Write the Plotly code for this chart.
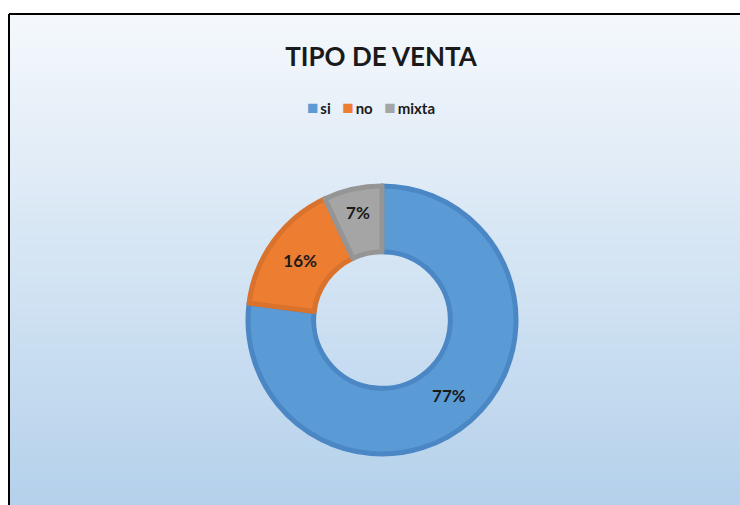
import plotly.graph_objects as go

# Data
categories = ["si", "no", "mixta"]
values = [77, 16, 7]
colors = ["#5B9BD5", "#ED7D31", "#A5A5A5"]
edge_colors = ["#4A87C4", "#D9722C", "#959595"]

W, H = 740, 505

fig = go.Figure()

fig.add_trace(go.Pie(
    labels=categories,
    values=values,
    hole=0.51,
    sort=False,
    direction="clockwise",
    rotation=0,
    marker=dict(colors=colors, line=dict(color=edge_colors, width=5)),
    texttemplate="%{percent:.0%}",
    textposition="inside",
    insidetextorientation="horizontal",
    textfont=dict(family="Lato", size=17, color="#1a1a1a", weight="bold"),
    domain=dict(x=[(382 - 134) / W, (382 + 134) / W],
                y=[(185 - 134) / H, (185 + 134) / H]),
    showlegend=False,
))

# gradient background strips (styling only)
shapes = []
top = (244, 248, 252)
bot = (181, 209, 235)
y_top = (H - 15) / H
n = 60
for i in range(n):
    t = i / (n - 1)
    c = tuple(round(top[k] + (bot[k] - top[k]) * t) for k in range(3))
    y1 = y_top - i * y_top / n
    y0 = y_top - (i + 1) * y_top / n
    shapes.append(dict(type="rect", xref="paper", yref="paper",
                       x0=10 / W, x1=1.0, y0=max(y0 - 0.002, 0), y1=y1,
                       fillcolor="rgb(%d,%d,%d)" % c, line=dict(width=0),
                       layer="below"))
# border lines
shapes.append(dict(type="line", xref="paper", yref="paper",
                   x0=9 / W, x1=1.0, y0=(H - 14) / H, y1=(H - 14) / H,
                   line=dict(color="black", width=2)))
shapes.append(dict(type="line", xref="paper", yref="paper",
                   x0=9 / W, x1=9 / W, y0=0, y1=(H - 14) / H,
                   line=dict(color="black", width=2)))

# compact legend built from the category list
legend_text = "&nbsp;&nbsp;&nbsp;".join(
    "<span style='color:%s;font-size:19px'>■</span>\u2009<b>%s</b>" % (c, lab)
    for c, lab in zip(colors, categories))
annotations = [dict(text=legend_text, xref="paper", yref="paper",
                    x=371 / W, y=1 - 107 / H, xanchor="center", yanchor="middle",
                    showarrow=False,
                    font=dict(family="Lato", size=15, color="#1a1a1a"))]

fig.update_layout(
    width=W, height=H,
    margin=dict(l=0, r=0, t=0, b=0),
    paper_bgcolor="white",
    plot_bgcolor="white",
    shapes=shapes,
    annotations=annotations,
    showlegend=False,
    title=dict(text="<b>TIPO DE VENTA</b>", x=381 / W, xanchor="center",
               y=1 - 57 / H, yanchor="middle",
               font=dict(family="Lato", size=26, color="#1a1a1a")),
)

fig.write_html("out.html", config={"displayModeBar": False},
               post_script="document.body.style.margin='0';")
